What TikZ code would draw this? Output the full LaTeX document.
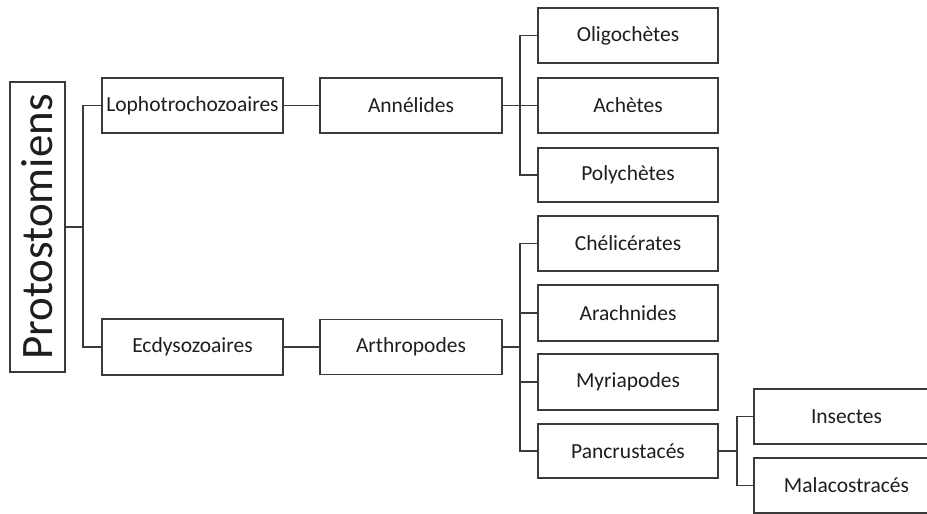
\documentclass[tikz,border=0pt]{standalone}
\usepackage{fontspec}
\setmainfont{Carlito}
\definecolor{linec}{HTML}{3A3A3A}
\definecolor{textc}{HTML}{1E1E1E}
\begin{document}
\begin{tikzpicture}[x=1pt,y=-1pt,
  box/.style={draw=linec,line width=1.3pt,fill=white,text=textc,inner sep=0pt,
    minimum width=181pt,minimum height=55pt,font=\fontsize{21.5}{24}\selectfont,anchor=center},
  conn/.style={draw=linec,line width=1.3pt}]
\useasboundingbox (0,0) rectangle (927,514);
\clip (0,0) rectangle (927,514);
\fill[white] (0,0) rectangle (927,514);
% nodes
\node[box,minimum width=290pt,minimum height=55pt,rotate=90,font=\fontsize{45}{50}\selectfont] (proto) at (37.5,227) {Protostomiens};
\node[box] (loph) at (192.5,105.5) {Lophotrochozoaires};
\node[box,minimum height=56pt] (ecdy) at (192.5,347) {Ecdysozoaires};
\node[box,minimum width=182pt] (anne) at (411,105.5) {Annélides};
\node[box,minimum width=182pt] (arth) at (411,347) {Arthropodes};
\node[box,minimum width=180pt] (olig) at (628,35.5) {Oligochètes};
\node[box,minimum width=180pt] (ache) at (628,105.5) {Achètes};
\node[box,minimum width=180pt,minimum height=54pt] (poly) at (628,175) {Polychètes};
\node[box,minimum width=180pt] (chel) at (628,243.5) {Chélicérates};
\node[box,minimum width=180pt,minimum height=56pt] (arac) at (628,313) {Arachnides};
\node[box,minimum width=180pt,minimum height=56pt] (myri) at (628,382) {Myriapodes};
\node[box,minimum width=180pt,minimum height=54pt] (panc) at (628,451) {Pancrustacés};
\node[box,minimum width=185pt] (inse) at (846.5,416.5) {Insectes};
\node[box,minimum width=185pt] (mala) at (846.5,485.5) {Malacostracés};
% bracket points
\coordinate (b1) at (83,227);
\coordinate (b2) at (520,105.5);
\coordinate (b3) at (520,347);
\coordinate (b4) at (737,451);
% connectors
\draw[conn] (proto.south) -- (b1);
\draw[conn] (loph.west) -| (b1) |- (ecdy.west);
\draw[conn] (loph.east) -- (anne.west);
\draw[conn] (ecdy.east) -- (arth.west);
\draw[conn] (anne.east) -- (b2);
\draw[conn] (olig.west) -| (b2) |- (poly.west);
\draw[conn] (b2) -- (ache.west);
\draw[conn] (arth.east) -- (b3);
\draw[conn] (chel.west) -| (b3) |- (panc.west);
\draw[conn] (arac.west) -- (arac.west -| b3);
\draw[conn] (myri.west) -- (myri.west -| b3);
\draw[conn] (panc.east) -- (b4);
\draw[conn] (inse.west) -| (b4) |- (mala.west);
\end{tikzpicture}
\end{document}
